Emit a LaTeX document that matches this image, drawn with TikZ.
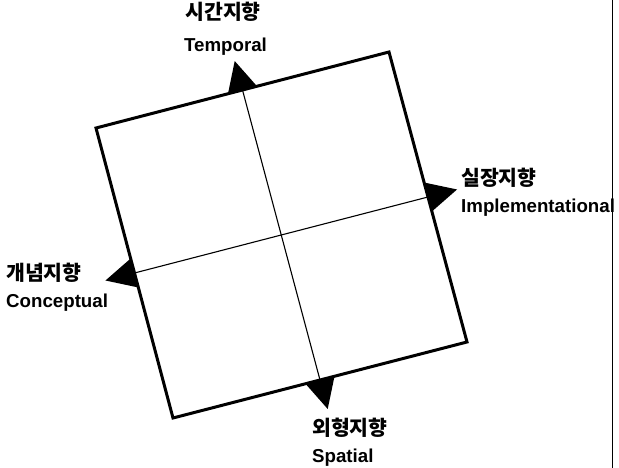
\documentclass[tikz,border=0pt]{standalone}
\usepackage{fontspec}
\setmainfont{Liberation Sans}
\newfontfamily\krfont{Noto Sans CJK KR}
\usetikzlibrary{calc}
\begin{document}
\begin{tikzpicture}[x=1pt,y=-1pt,
  frame/.style={line width=3pt,line join=miter},
  axisline/.style={line width=1.1pt},
  arrowhead/.style={fill=black},
  krlabel/.style={inner sep=0pt,font=\krfont\bfseries\fontsize{20.5}{22}\selectfont},
  enlabel/.style={inner sep=0pt,font=\bfseries\fontsize{18.7}{20}\selectfont}]
\useasboundingbox (0,0) rectangle (619,468);
\fill[white] (0,0) rectangle (619,468);
% corners of the rotated square
\coordinate (TL) at (96,128);
\coordinate (TR) at (389,52);
\coordinate (BR) at (467,342);
\coordinate (BL) at (173,418);
\coordinate (O) at ($(TL)!0.5!(BR)$);
\coordinate (T) at ($(TL)!0.5!(TR)$);
\coordinate (R) at ($(TR)!0.5!(BR)$);
\coordinate (B) at ($(BL)!0.5!(BR)$);
\coordinate (L) at ($(TL)!0.5!(BL)$);
% inner cross
\draw[axisline] (T) -- (B);
\draw[axisline] (L) -- (R);
% square
\draw[frame] (TL) -- (TR) -- (BR) -- (BL) -- cycle;
% arrowheads
\fill[arrowhead] ($(T)!15pt!(TL)$) -- ($(T)!15pt!(TR)$) -- ($(T)!-30pt!(O)$) -- cycle;
\fill[arrowhead] ($(R)!15pt!(TR)$) -- ($(R)!15pt!(BR)$) -- ($(R)!-30pt!(O)$) -- cycle;
\fill[arrowhead] ($(B)!15pt!(BL)$) -- ($(B)!15pt!(BR)$) -- ($(B)!-30pt!(O)$) -- cycle;
\fill[arrowhead] ($(L)!15pt!(TL)$) -- ($(L)!15pt!(BL)$) -- ($(L)!-30pt!(O)$) -- cycle;
% labels
\node[krlabel] (krT) at (223,12) {시간지향};
\node[enlabel,anchor=base] (enT) at (225.5,52) {Temporal};
\node[krlabel,anchor=west] (krR) at (461,178) {실장지향};
\node[enlabel,anchor=base west] (enR) at (461,213) {Implementational};
\node[krlabel,anchor=west] (krL) at (6,273) {개념지향};
\node[enlabel,anchor=base west] (enL) at (6,307) {Conceptual};
\node[krlabel,anchor=west] (krB) at (312,428) {외형지향};
\node[enlabel,anchor=base west] (enB) at (312,462) {Spatial};
% page edge line
\coordinate (edgeTop) at (612,0);
\coordinate (edgeBot) at (612,468);
\draw[line width=1pt] (edgeTop) -- (edgeBot);
\end{tikzpicture}
\end{document}
